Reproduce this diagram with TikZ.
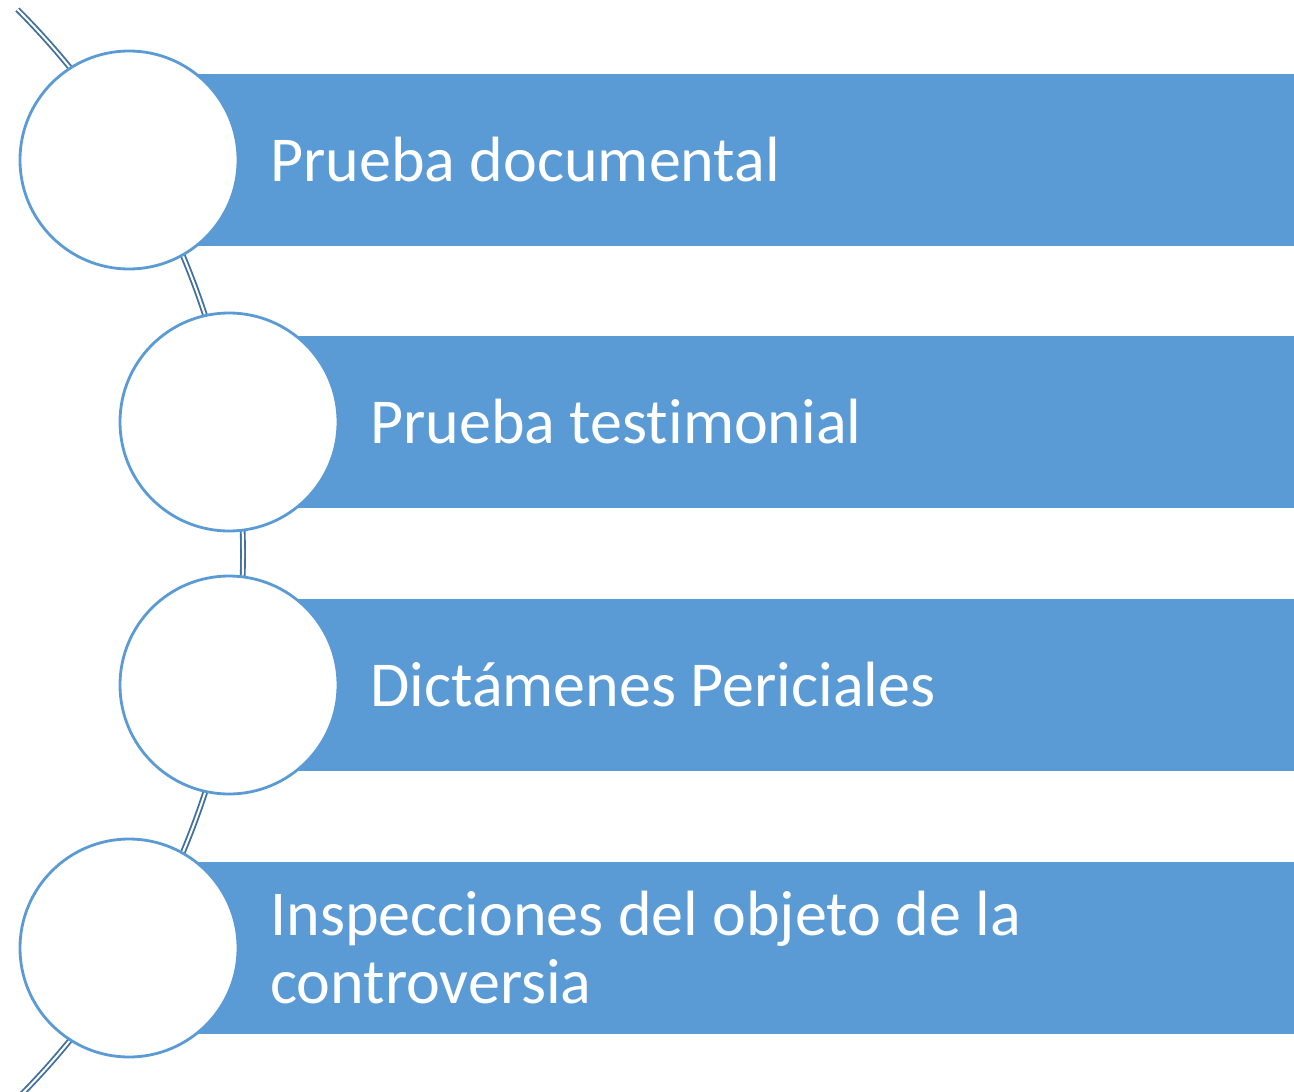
\documentclass[tikz,border=0pt]{standalone}
\usepackage{fontspec}
\setmainfont{Carlito}[Ligatures=NoCommon]
\usepackage{xcolor}
\usepackage{tikz}
\usetikzlibrary{positioning}
\definecolor{barcolor}{RGB}{91,155,213}
\definecolor{spinecolor}{RGB}{65,113,156}

\begin{document}
\begin{tikzpicture}[
    x=0.75pt, y=0.75pt,
    bar/.style={fill=barcolor, minimum height=129pt, inner sep=0pt, anchor=west},
    disc/.style={circle, draw=barcolor, line width=2.1pt, fill=white, minimum size=163.5pt, inner sep=0pt},
    caption/.style={text=white, font=\fontsize{48}{51}\selectfont, align=left, inner sep=0pt}
]
    \useasboundingbox (0,0) rectangle (1294,-1091);
    % spine behind the discs
    \draw[spinecolor, line width=1.4pt, double=white, double distance=1.5pt]
        (-527,-554) ++(45:577.5pt) arc[start angle=45, end angle=-46, radius=577.5pt];
    % bars
    \node[bar, minimum width=873.75pt] (bar1) at (129,-160) {};
    \node[bar, minimum width=798.75pt] (bar2) at (229,-422) {};
    \node[bar, minimum width=798.75pt] (bar3) at (229,-685) {};
    \node[bar, minimum width=873.75pt] (bar4) at (129,-948) {};
    % discs
    \node[disc] (c1) at (129,-160) {};
    \node[disc] (c2) at (229,-422) {};
    \node[disc] (c3) at (229,-685) {};
    \node[disc] (c4) at (129,-948) {};
    % labels
    \node[caption, right=23pt of c1] (t1) {Prueba documental};
    \node[caption, right=23pt of c2] (t2) {Prueba testimonial};
    \node[caption, right=23pt of c3] (t3) {Dictámenes Periciales};
    \node[caption, right=23pt of c4] (t4) {Inspecciones del objeto de la\\controversia};
\end{tikzpicture}
\end{document}
